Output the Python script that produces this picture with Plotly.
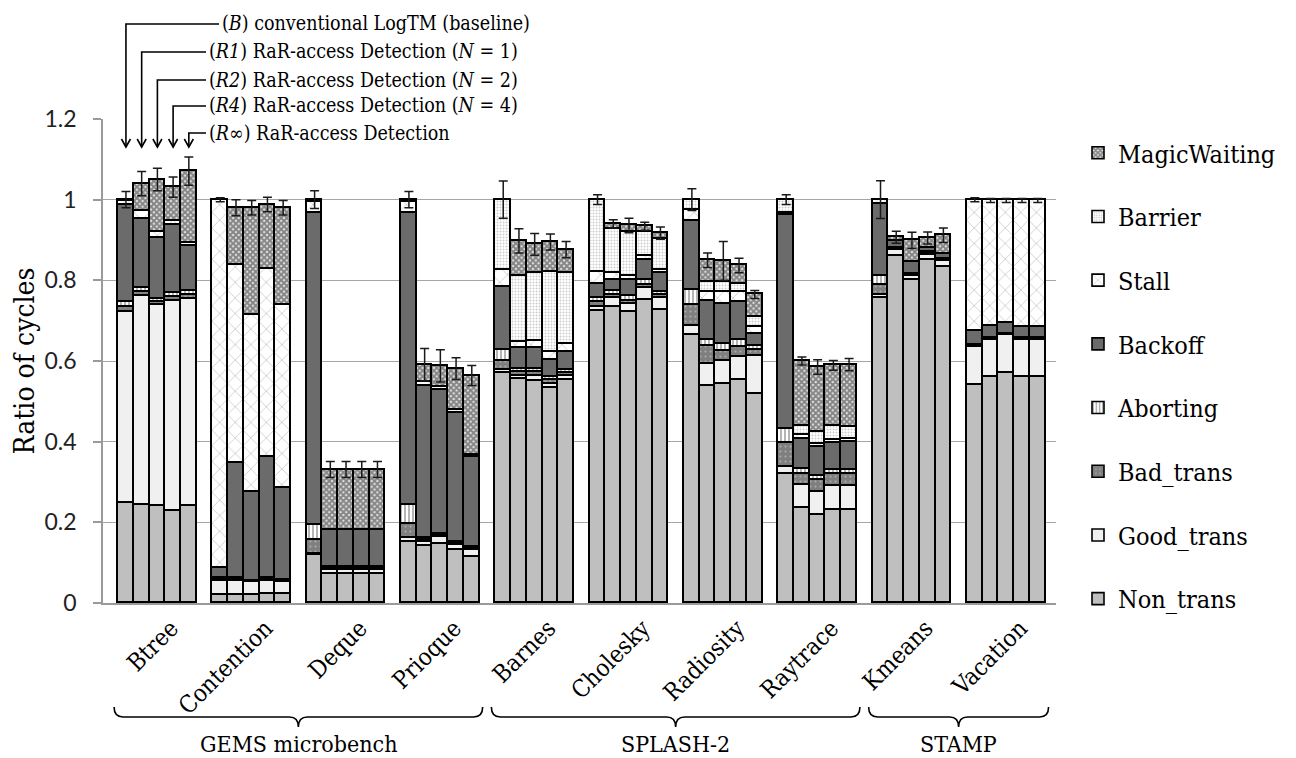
import plotly.graph_objects as go

# ---------------- data ----------------
categories = ["Btree", "Contention", "Deque", "Prioque", "Barnes", "Cholesky",
              "Radiosity", "Raytrace", "Kmeans", "Vacation"]
configs = ["B", "R1", "R2", "R4", "Rinf"]
groups = [("GEMS microbench", 0, 3), ("SPLASH-2", 4, 7), ("STAMP", 8, 9)]

# each row = one benchmark, 5 values = B, R1, R2, R4, Rinf
non_trans = [[0.247, 0.244, 0.240, 0.227, 0.240],
             [0.021, 0.021, 0.020, 0.022, 0.022],
             [0.118, 0.071, 0.071, 0.071, 0.071],
             [0.151, 0.141, 0.147, 0.132, 0.114],
             [0.570, 0.556, 0.550, 0.534, 0.554],
             [0.724, 0.734, 0.721, 0.752, 0.726],
             [0.665, 0.538, 0.544, 0.554, 0.519],
             [0.321, 0.236, 0.219, 0.230, 0.230],
             [0.755, 0.860, 0.800, 0.851, 0.833],
             [0.541, 0.560, 0.571, 0.560, 0.560]]
good_trans = [[0.475, 0.517, 0.498, 0.522, 0.513],
              [0.034, 0.034, 0.031, 0.033, 0.031],
              [0.004, 0.012, 0.012, 0.012, 0.012],
              [0.010, 0.010, 0.017, 0.011, 0.018],
              [0.007, 0.008, 0.012, 0.010, 0.008],
              [0.010, 0.022, 0.021, 0.030, 0.029],
              [0.023, 0.055, 0.056, 0.056, 0.093],
              [0.016, 0.056, 0.055, 0.059, 0.059],
              [0.008, 0.014, 0.010, 0.013, 0.015],
              [0.094, 0.093, 0.093, 0.093, 0.093]]
bad_trans = [[0.012, 0.010, 0.008, 0.010, 0.010],
             [0.004, 0.003, 0.002, 0.003, 0.003],
             [0.035, 0.003, 0.003, 0.003, 0.003],
             [0.036, 0.005, 0.004, 0.004, 0.004],
             [0.023, 0.009, 0.011, 0.008, 0.008],
             [0.012, 0.007, 0.008, 0.006, 0.008],
             [0.050, 0.043, 0.026, 0.025, 0.016],
             [0.060, 0.029, 0.030, 0.030, 0.032],
             [0.025, 0.004, 0.003, 0.003, 0.003],
             [0.002, 0.002, 0.002, 0.002, 0.002]]
aborting = [[0.012, 0.011, 0.008, 0.009, 0.010],
            [0.003, 0.003, 0.002, 0.003, 0.002],
            [0.036, 0.003, 0.003, 0.003, 0.003],
            [0.045, 0.004, 0.004, 0.004, 0.003],
            [0.028, 0.008, 0.008, 0.008, 0.007],
            [0.010, 0.010, 0.010, 0.012, 0.008],
            [0.037, 0.015, 0.017, 0.016, 0.008],
            [0.035, 0.012, 0.010, 0.010, 0.010],
            [0.022, 0.003, 0.002, 0.003, 0.003],
            [0.002, 0.001, 0.001, 0.001, 0.001]]
backoff = [[0.242, 0.171, 0.152, 0.168, 0.111],
           [0.026, 0.286, 0.220, 0.300, 0.227],
           [0.775, 0.091, 0.091, 0.091, 0.091],
           [0.726, 0.378, 0.355, 0.321, 0.223],
           [0.155, 0.052, 0.052, 0.043, 0.045],
           [0.036, 0.027, 0.040, 0.050, 0.047],
           [0.172, 0.098, 0.099, 0.095, 0.032],
           [0.529, 0.074, 0.073, 0.068, 0.068],
           [0.180, 0.017, 0.030, 0.011, 0.012],
           [0.035, 0.030, 0.026, 0.028, 0.028]]
stall = [[0.008, 0.020, 0.014, 0.011, 0.008],
         [0.912, 0.490, 0.440, 0.468, 0.454],
         [0.025, 0.000, 0.000, 0.000, 0.000],
         [0.025, 0.010, 0.009, 0.006, 0.004],
         [0.043, 0.014, 0.017, 0.019, 0.021],
         [0.029, 0.017, 0.010, 0.010, 0.007],
         [0.027, 0.022, 0.029, 0.025, 0.016],
         [0.005, 0.009, 0.006, 0.006, 0.008],
         [0.010, 0.000, 0.000, 0.000, 0.000],
         [0.326, 0.312, 0.305, 0.314, 0.314]]
barrier = [[0.004, 0.000, 0.000, 0.000, 0.000],
           [0.000, 0.000, 0.000, 0.000, 0.000],
           [0.007, 0.000, 0.000, 0.000, 0.000],
           [0.007, 0.000, 0.000, 0.000, 0.000],
           [0.174, 0.163, 0.167, 0.199, 0.175],
           [0.179, 0.111, 0.111, 0.061, 0.078],
           [0.026, 0.025, 0.025, 0.021, 0.025],
           [0.034, 0.024, 0.031, 0.035, 0.029],
           [0.000, 0.000, 0.000, 0.000, 0.000],
           [0.000, 0.000, 0.000, 0.000, 0.000]]
magic_waiting = [[0.000, 0.067, 0.130, 0.084, 0.179],
                 [0.000, 0.143, 0.265, 0.159, 0.241],
                 [0.000, 0.151, 0.151, 0.151, 0.151],
                 [0.000, 0.043, 0.052, 0.103, 0.198],
                 [0.000, 0.088, 0.072, 0.074, 0.058],
                 [0.000, 0.012, 0.015, 0.013, 0.014],
                 [0.000, 0.054, 0.052, 0.045, 0.056],
                 [0.000, 0.160, 0.161, 0.151, 0.155],
                 [0.000, 0.009, 0.054, 0.024, 0.046],
                 [0.000, 0.000, 0.000, 0.000, 0.000]]
errors = [[0.020, 0.030, 0.028, 0.025, 0.035],
          [0.005, 0.020, 0.018, 0.018, 0.018],
          [0.022, 0.020, 0.020, 0.020, 0.020],
          [0.020, 0.040, 0.040, 0.027, 0.025],
          [0.046, 0.030, 0.027, 0.020, 0.020],
          [0.012, 0.010, 0.018, 0.010, 0.015],
          [0.027, 0.018, 0.048, 0.018, 0.010],
          [0.012, 0.010, 0.018, 0.012, 0.015],
          [0.047, 0.015, 0.020, 0.015, 0.018],
          [0.005, 0.005, 0.005, 0.005, 0.005]]

annot_texts = ["(<i>B</i>) conventional LogTM (baseline)",
               "(<i>R1</i>) RaR-access Detection (<i>N</i> = 1)",
               "(<i>R2</i>) RaR-access Detection (<i>N</i> = 2)",
               "(<i>R4</i>) RaR-access Detection (<i>N</i> = 4)",
               "(<i>R</i>∞) RaR-access Detection"]

# ---------------- layout geometry ----------------
OFF = 8            # default page margin of the html body
W, H = 1296 - OFF, 758 - OFF
ML, MR, MT, MB = 103 - OFF, 240, 119 - OFF, 155
PW, PH = W - ML - MR, H - MT - MB
SLOT = 6           # 5 bars + 1 gap per benchmark
XMIN = -1.46
XMAX = XMIN + PW / 15.72
YMAX = 1.2

SERIF = "DejaVu Serif Condensed, DejaVu Serif"

def flat(rows):
    return [v for r in rows for v in r]

xs = [SLOT * i + j for i in range(len(categories)) for j in range(len(configs))]

def px_x(x):  # data x -> page pixel
    return OFF + ML + (x - XMIN) / (XMAX - XMIN) * PW

def paper_x(px):  # page pixel -> paper
    return (px - OFF - ML) / PW

def paper_y(py):
    return (H - MB - (py - OFF)) / PH

series = [
    ("Non_trans", non_trans, dict(color="#bfbfbf")),
    ("Good_trans", good_trans, dict(color="#f0f0f0")),
    ("Bad_trans", bad_trans, dict(color="#7f7f7f",
                                  pattern=dict(shape=".", fgcolor="#d8d8d8", bgcolor="#7f7f7f",
                                               size=5, solidity=0.15))),
    ("Aborting", aborting, dict(color="white",
                                pattern=dict(shape="|", fgcolor="#5a5a5a", bgcolor="white",
                                             size=4, solidity=0.45))),
    ("Backoff", backoff, dict(color="#6b6b6b")),
    ("Stall", stall, dict(color="white",
                          pattern=dict(shape="x", fgcolor="#9a9a9a", bgcolor="white",
                                       size=11, solidity=0.15))),
    ("Barrier", barrier, dict(color="white",
                              pattern=dict(shape=".", fgcolor="#9a9a9a", bgcolor="white",
                                           size=3, solidity=0.35))),
    ("MagicWaiting", magic_waiting, dict(color="white",
                                         pattern=dict(shape="x", fgcolor="#222222", bgcolor="#e8e8e8",
                                                      size=4, solidity=0.75))),
]

fig = go.Figure()
n_series = len(series)
for k, (name, rows, mk) in enumerate(series):
    mk = dict(mk)
    mk["line"] = dict(color="black", width=1.6)
    fig.add_trace(go.Bar(x=xs, y=flat(rows), name=name, width=1.0, marker=mk,
                         legendgroup=name, legendrank=100 + (n_series - k),
                         hoverinfo="skip"))

totals = [sum(vals) for vals in zip(*[flat(r) for _, r, _ in series])]
fig.add_trace(go.Scatter(x=xs, y=totals, mode="markers", showlegend=False,
                         marker=dict(size=1, color="rgba(0,0,0,0)"),
                         error_y=dict(type="data", array=flat(errors), visible=True,
                                      color="#1a1a1a", thickness=1.5, width=4.5),
                         hoverinfo="skip"))

shapes = []
annotations = []

# top explanatory labels with elbow arrows
text_px = [220, 207, 207, 207, 207]
text_py = [24, 52, 80, 106, 133]
tip_py = 147
for j in range(len(configs)):
    bx = px_x(xs[j])
    shapes.append(dict(type="path", xref="paper", yref="paper",
                       path=f"M {paper_x(bx)},{paper_y(tip_py)} L {paper_x(bx)},{paper_y(text_py[j])} "
                            f"L {paper_x(text_px[j] - 1)},{paper_y(text_py[j])}",
                       line=dict(color="black", width=1.6)))
    shapes.append(dict(type="path", xref="paper", yref="paper",
                       path=f"M {paper_x(bx - 4.5)},{paper_y(tip_py - 8)} L {paper_x(bx)},{paper_y(tip_py)} "
                            f"L {paper_x(bx + 4.5)},{paper_y(tip_py - 8)}",
                       line=dict(color="black", width=1.6)))
    annotations.append(dict(xref="paper", yref="paper", x=paper_x(text_px[j]), y=paper_y(text_py[j]),
                            xanchor="left", yanchor="middle", showarrow=False,
                            text=annot_texts[j], font=dict(family=SERIF, size=19.5, color="black")))

# group braces and labels
brace_top, brace_mid, brace_tip = 707, 717, 727
for label, i0, i1 in groups:
    L = px_x(SLOT * i0 - 0.5) - 4
    R = px_x(SLOT * i1 + 4.5) + 3
    C = (L + R) / 2
    def P(px, py):
        return f"{paper_x(px)},{paper_y(py)}"
    path = (f"M {P(L, brace_top)} Q {P(L, brace_mid)} {P(L + 9, brace_mid)} "
            f"L {P(C - 9, brace_mid)} Q {P(C, brace_mid)} {P(C, brace_tip)} "
            f"Q {P(C, brace_mid)} {P(C + 9, brace_mid)} "
            f"L {P(R - 9, brace_mid)} Q {P(R, brace_mid)} {P(R, brace_top)}")
    shapes.append(dict(type="path", xref="paper", yref="paper", path=path,
                       line=dict(color="black", width=1.6)))
    annotations.append(dict(xref="paper", yref="paper", x=paper_x(C), y=paper_y(744),
                            xanchor="center", yanchor="middle", showarrow=False, text=label,
                            font=dict(family=SERIF, size=23, color="black")))

fig.update_layout(
    width=W, height=H,
    margin=dict(l=ML, r=MR, t=MT, b=MB, autoexpand=False),
    paper_bgcolor="white", plot_bgcolor="white",
    barmode="stack", bargap=0,
    shapes=shapes, annotations=annotations,
    legend=dict(x=paper_x(1078), y=paper_y(130), xanchor="left", yanchor="top",
                traceorder="grouped", tracegroupgap=28.2, maxheight=700,
                font=dict(family=SERIF, size=25, color="black"),
                bgcolor="rgba(0,0,0,0)"),
    xaxis=dict(range=[XMIN, XMAX], tickvals=[SLOT * i + 2 for i in range(len(categories))],
               ticktext=categories, tickangle=-45, ticks="", showgrid=False, zeroline=False,
               showline=True, linecolor="#9a9a9a", linewidth=1.5,
               tickfont=dict(family=SERIF, size=24, color="black"),
               ticklabelshift=14, ticklabelstandoff=0),
    yaxis=dict(range=[0, YMAX], dtick=0.2, tickformat="~g", showgrid=True,
               gridcolor="#a6a6a6", gridwidth=1.4, zeroline=False,
               showline=True, linecolor="#9a9a9a", linewidth=1.5,
               ticks="outside", ticklen=8, tickcolor="#9a9a9a", tickwidth=1.5,
               tickfont=dict(family="Lato", size=23, color="#222"),
               ticklabelstandoff=12,
               title=dict(text="Ratio of cycles", standoff=6,
                          font=dict(family=SERIF, size=28, color="black"))),
)

fig.write_html("out.html")
